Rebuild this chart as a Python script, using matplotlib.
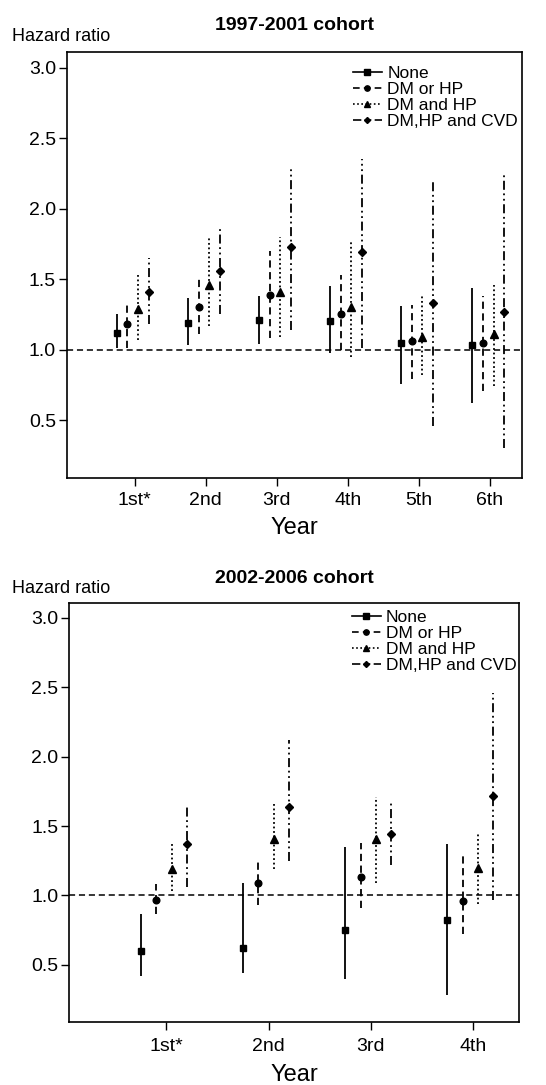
import matplotlib
matplotlib.use("Agg")
import matplotlib.pyplot as plt
from matplotlib.lines import Line2D
import numpy as np

plt.rcParams['font.family'] = ['Liberation Sans', 'DejaVu Sans']

groups = ["None", "DM or HP", "DM and HP", "DM,HP and CVD"]

# 1997-2001 cohort: hazard ratio, lower CI, upper CI per group and year
years_a = ["1st*", "2nd", "3rd", "4th", "5th", "6th"]
hr_a = [
    [1.12, 1.19, 1.21, 1.20, 1.05, 1.03],
    [1.18, 1.30, 1.39, 1.25, 1.06, 1.05],
    [1.29, 1.46, 1.41, 1.30, 1.09, 1.11],
    [1.41, 1.56, 1.73, 1.69, 1.33, 1.27],
]
lo_a = [
    [1.01, 1.03, 1.04, 0.98, 0.76, 0.62],
    [1.01, 1.11, 1.08, 1.00, 0.79, 0.71],
    [1.07, 1.17, 1.09, 0.95, 0.82, 0.74],
    [1.18, 1.25, 1.14, 1.01, 0.46, 0.30],
]
hi_a = [
    [1.25, 1.37, 1.38, 1.45, 1.31, 1.44],
    [1.34, 1.52, 1.70, 1.53, 1.32, 1.38],
    [1.54, 1.80, 1.80, 1.78, 1.38, 1.46],
    [1.65, 1.86, 2.30, 2.35, 2.20, 2.25],
]

# 2002-2006 cohort
years_b = ["1st*", "2nd", "3rd", "4th"]
hr_b = [
    [0.60, 0.62, 0.75, 0.82],
    [0.97, 1.09, 1.13, 0.96],
    [1.19, 1.41, 1.41, 1.20],
    [1.37, 1.64, 1.44, 1.72],
]
lo_b = [
    [0.42, 0.44, 0.40, 0.28],
    [0.87, 0.93, 0.91, 0.72],
    [1.03, 1.19, 1.09, 0.94],
    [1.06, 1.25, 1.22, 0.97],
]
hi_b = [
    [0.87, 1.09, 1.35, 1.37],
    [1.08, 1.26, 1.38, 1.29],
    [1.37, 1.67, 1.71, 1.46],
    [1.66, 2.12, 1.68, 2.46],
]

offsets = [-0.25, -0.1, 0.05, 0.2]
markers = ['s', 'o', '^', 'D']
msizes = [5, 4.8, 5.5, 3.8]
styles = ['-', (0, (4, 2.5)), (0, (1, 1.5)), (0, (5, 2, 1, 2, 1, 2))]


def draw(ax, years, hr, lo, hi, title, tpad, xpad, hr_xy, leg_xy):
    x = np.arange(1, len(years) + 1)
    for k in range(4):
        xs = x + offsets[k]
        y = np.array(hr[k])
        err = [y - np.array(lo[k]), np.array(hi[k]) - y]
        eb = ax.errorbar(xs, y, yerr=err, fmt=markers[k], color='black',
                         ms=msizes[k], elinewidth=1.3, capsize=0)
        eb[2][0].set_linestyle(styles[k])
    ax.axhline(1.0, color='black', lw=1.1, ls=(0, (4, 2.5)))
    ax.set_xlim(0.05, len(years) + 0.45)
    ax.set_ylim(0.09, 3.11)
    ax.set_xticks(x)
    ax.set_xticklabels(years)
    ax.set_yticks([0.5, 1.0, 1.5, 2.0, 2.5, 3.0])
    ax.set_yticklabels(["0.5", "1.0", "1.5", "2.0", "2.5", "3.0"])
    ax.tick_params(labelsize=14, length=6, width=1, direction='out')
    ax.tick_params(axis='y', pad=2)
    ax.tick_params(axis='x', pad=xpad)
    for s in ax.spines.values():
        s.set_linewidth(1.2)
    ax.set_xlabel("Year", fontsize=17, labelpad=6)
    ax.set_title(title, fontsize=14, fontweight='bold', pad=tpad)
    ax.text(hr_xy[0], hr_xy[1], "Hazard ratio", transform=ax.transAxes,
            fontsize=13, ha='left', va='center')
    handles = [Line2D([], [], color='black', lw=1.2, ls=styles[k],
                      marker=markers[k], ms=msizes[k] * 0.8)
               for k in range(4)]
    ax.legend(handles, groups, loc='upper right', bbox_to_anchor=leg_xy,
              frameon=False, fontsize=12.5, handlelength=1.67,
              handletextpad=0.3, labelspacing=0.05,
              borderaxespad=0, borderpad=0)


fig = plt.figure(figsize=(5.46, 10.85), dpi=100)
ax1 = fig.add_axes([0.1227, 0.5594, 0.8333, 0.3926])
ax2 = fig.add_axes([0.127, 0.0583, 0.8235, 0.3862])
draw(ax1, years_a, hr_a, lo_a, hi_a, "1997-2001 cohort", 16, 4,
     (-0.121, 1.036), (0.991, 0.967))
draw(ax2, years_b, hr_b, lo_b, hi_b, "2002-2006 cohort", 14, 6,
     (-0.127, 1.035), (0.995, 0.983))

fig.savefig("out.png", dpi=100)
